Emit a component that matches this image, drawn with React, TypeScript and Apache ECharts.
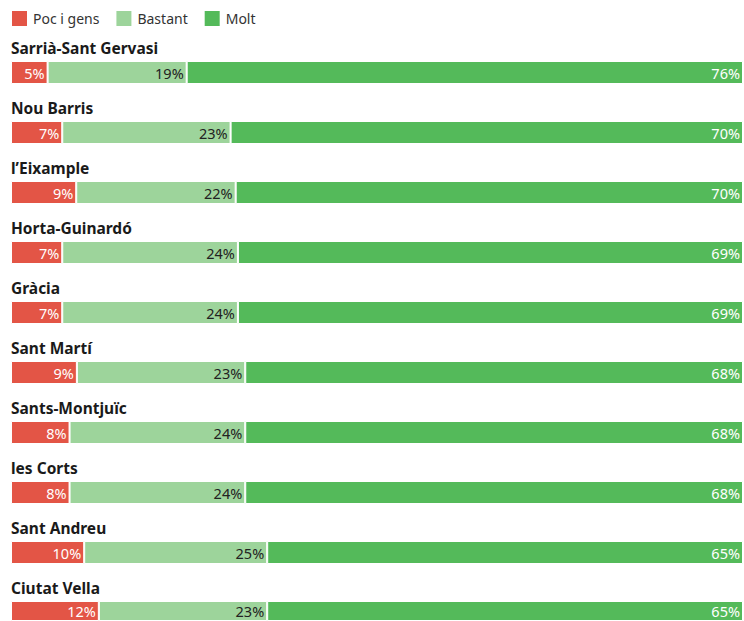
import React, { useEffect, useRef } from "react";
import * as echarts from "echarts";

const categories = [
  "Sarrià-Sant Gervasi",
  "Nou Barris",
  "l’Eixample",
  "Horta-Guinardó",
  "Gràcia",
  "Sant Martí",
  "Sants-Montjuïc",
  "les Corts",
  "Sant Andreu",
  "Ciutat Vella",
];
const pocValues = [5, 7, 9, 7, 7, 9, 8, 8, 10, 12];
const bastantValues = [19, 23, 22, 24, 24, 23, 24, 24, 25, 23];
const moltValues = [76, 70, 70, 69, 69, 68, 68, 68, 65, 65];
const seriesNames = ["Poc i gens", "Bastant", "Molt"];
const colors = ["#e35546", "#9dd49b", "#54ba5a"];
const labelColors = ["#ffffff", "#222222", "#ffffff"];

const FONT = "'Noto Sans', 'Open Sans', sans-serif";

export default function App() {
  const ref = useRef<HTMLDivElement>(null);
  useEffect(() => {
    if (!ref.current) return;
    const chart = echarts.init(ref.current, null, { renderer: "svg" });
    const grids: any[] = [];
    const xAxes: any[] = [];
    const yAxes: any[] = [];
    const series: any[] = [];
    const valueSets = [pocValues, bastantValues, moltValues];
    categories.forEach((cat, i) => {
      const total = pocValues[i] + bastantValues[i] + moltValues[i];
      grids.push({ left: 11, right: 1, top: 61 + 60 * i, height: 23 });
      xAxes.push({
        type: "value",
        gridIndex: i,
        min: 0,
        max: total,
        show: false,
      });
      yAxes.push({
        type: "category",
        gridIndex: i,
        data: [cat],
        axisLine: { show: false },
        axisTick: { show: false },
        axisLabel: { show: false },
        name: cat,
        nameLocation: "end",
        nameGap: 5,
        nameTextStyle: {
          align: "left",
          verticalAlign: "bottom",
          fontWeight: "bold",
          fontSize: 15.5,
          color: "#1a1a1a",
          fontFamily: FONT,
        },
      });
      valueSets.forEach((vals, s) => {
        series.push({
          type: "bar",
          name: seriesNames[s],
          xAxisIndex: i,
          yAxisIndex: i,
          stack: "row" + i,
          barWidth: "100%",
          data: [vals[i]],
          itemStyle: { color: colors[s], borderColor: "#ffffff", borderWidth: 1 },
          label: {
            show: true,
            position: "insideRight",
            distance: 3,
            formatter: "{c}%",
            color: labelColors[s],
            fontSize: 14.5,
            fontFamily: FONT,
          },
          emphasis: { disabled: true },
        });
      });
    });
    chart.setOption({
      animation: false,
      color: colors,
      legend: {
        data: seriesNames,
        left: 10,
        top: 9,
        padding: 0,
        itemWidth: 17,
        itemHeight: 17,
        itemGap: 15,
        icon: "rect",
        textStyle: { fontSize: 14, color: "#333", fontFamily: FONT },
        selectedMode: false,
      },
      grid: grids,
      xAxis: xAxes,
      yAxis: yAxes,
      series,
    });
    return () => chart.dispose();
  }, []);
  return (
    <div
      ref={ref}
      style={{ position: "fixed", left: 0, top: 0, width: 744, height: 621, background: "#fff" }}
    />
  );
}
